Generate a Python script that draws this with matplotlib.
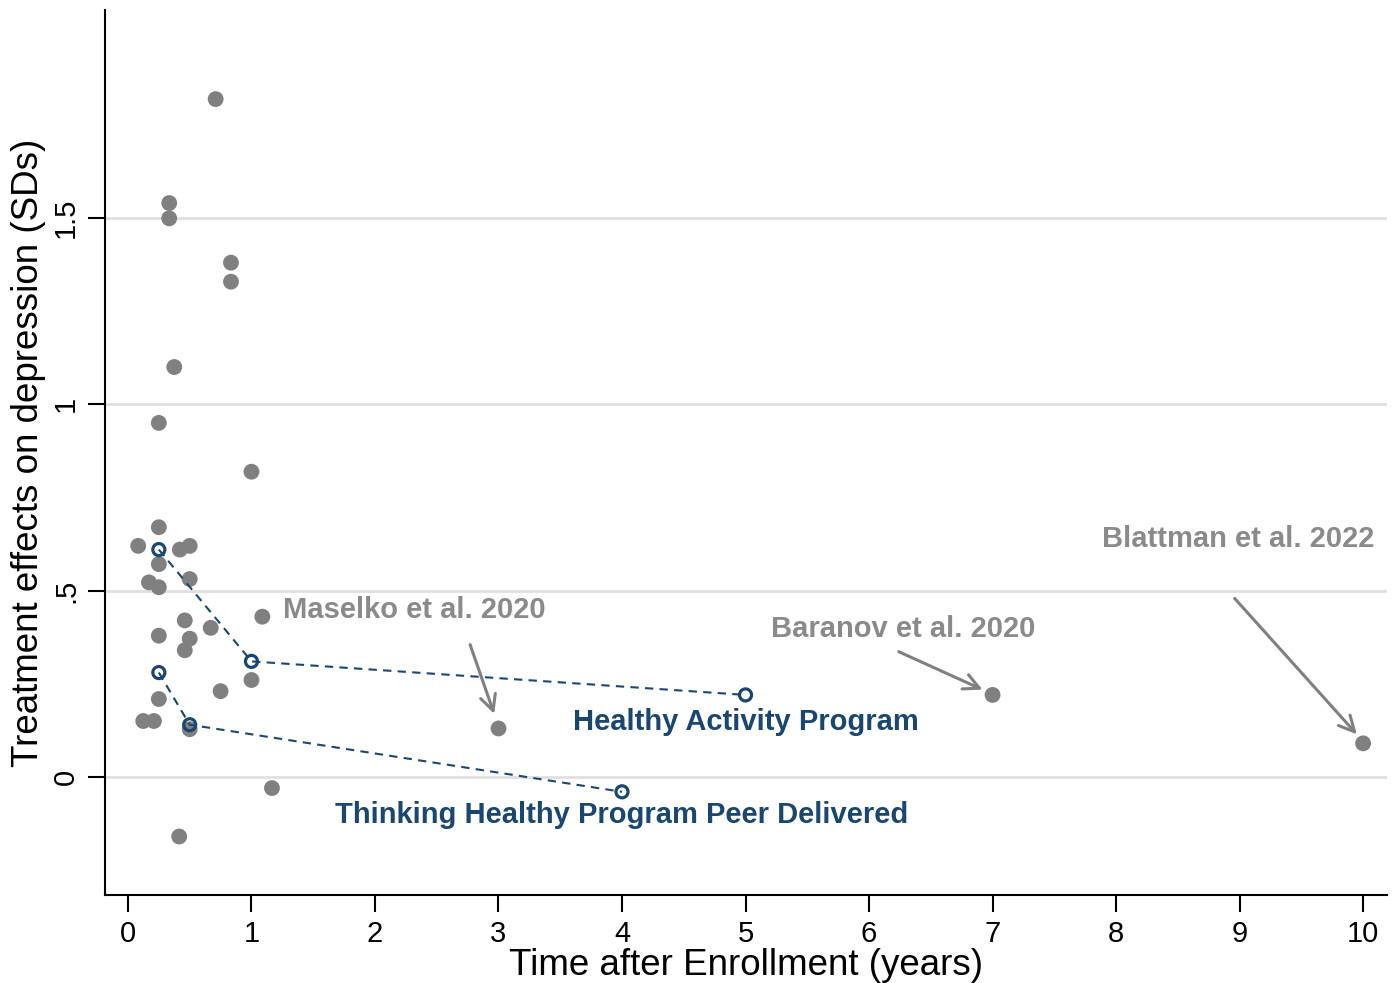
import matplotlib
matplotlib.use("Agg")
import matplotlib.pyplot as plt

plt.rcParams['font.family'] = ['Liberation Sans', 'DejaVu Sans']

# Study estimates (time in years, effect in SDs)
time_years = [0.083, 0.25, 0.25, 0.25, 0.25, 0.25, 0.25, 0.124, 0.21, 0.17,
              0.42, 0.50, 0.50, 0.46, 0.67, 0.50, 0.46, 1.088, 1.00, 0.75, 0.50,
              1.166, 0.415, 0.71, 0.334, 0.334, 0.834, 0.834, 0.375, 1.00,
              3.0, 7.0, 10.0]
effect_sd = [0.62, 0.67, 0.571, 0.509, 0.379, 0.209, 0.95, 0.15, 0.15, 0.522,
             0.61, 0.62, 0.531, 0.42, 0.40, 0.371, 0.34, 0.43, 0.26, 0.23, 0.128,
             -0.03, -0.16, 1.819, 1.54, 1.499, 1.38, 1.329, 1.10, 0.819,
             0.13, 0.22, 0.09]

# Programme follow-ups
hap_time = [0.25, 1.0, 5.0]
hap_effect = [0.61, 0.31, 0.22]
thp_time = [0.25, 0.5, 4.0]
thp_effect = [0.28, 0.14, -0.04]

gray = '#808080'
navy = '#1a476f'

fig = plt.figure(figsize=(13.96, 9.83), dpi=100)
ax = fig.add_axes([0.0752, 0.0895, 0.9184, 0.9003])

ax.set_xlim(-0.186, 10.194)
ax.set_ylim(-0.317, 2.058)

for yv in [0, 0.5, 1.0, 1.5]:
    ax.axhline(yv, color='#e0e0e0', lw=2, zorder=0)

ax.scatter(time_years, effect_sd, s=130, color=gray, edgecolors='none', zorder=3)

ax.plot(hap_time, hap_effect, color=navy, lw=1.5, ls=(0, (4, 3)), zorder=4)
ax.plot(thp_time, thp_effect, color=navy, lw=1.5, ls=(0, (4, 3)), zorder=4)
ax.scatter(hap_time + thp_time, hap_effect + thp_effect, s=75, facecolors='none',
           edgecolors=navy, linewidths=2.3, zorder=5)

ax.text(5.0, 0.148, 'Healthy Activity Program', color=navy, fontsize=21,
        fontweight='bold', ha='center', va='center')
ax.text(4.0, -0.102, 'Thinking Healthy Program Peer Delivered', color=navy, fontsize=21,
        fontweight='bold', ha='center', va='center')

txt_gray = '#8a8a8a'
arrowprops = dict(arrowstyle='->', color=gray, lw=2.2, mutation_scale=28, shrinkA=0, shrinkB=4)
ax.text(2.32, 0.448, 'Maselko et al. 2020', color=txt_gray, fontsize=21,
        fontweight='bold', ha='center', va='center')
ax.annotate('', xy=(2.98, 0.155), xytext=(2.77, 0.355), arrowprops=arrowprops)
ax.text(6.28, 0.397, 'Baranov et al. 2020', color=txt_gray, fontsize=21,
        fontweight='bold', ha='center', va='center')
ax.annotate('', xy=(6.96, 0.228), xytext=(6.24, 0.336), arrowprops=arrowprops)
ax.text(8.99, 0.639, 'Blattman et al. 2022', color=txt_gray, fontsize=21,
        fontweight='bold', ha='center', va='center')
ax.annotate('', xy=(9.98, 0.103), xytext=(8.96, 0.479), arrowprops=arrowprops)

ax.spines['top'].set_visible(False)
ax.spines['right'].set_visible(False)
ax.spines['left'].set_linewidth(1.5)
ax.spines['bottom'].set_linewidth(1.5)

ax.set_xticks(range(0, 11))
ax.set_yticks([0, 0.5, 1.0, 1.5])
ax.set_yticklabels(['0', '.5', '1', '1.5'], rotation=90, va='center')
ax.tick_params(axis='both', direction='out', length=12, width=1.5, labelsize=21, pad=6)

ax.set_xlabel('Time after Enrollment (years)', fontsize=26.5, labelpad=0)
ax.set_ylabel('Treatment effects on depression (SDs)', fontsize=26.5, labelpad=4)

fig.savefig('out.png', dpi=100)
